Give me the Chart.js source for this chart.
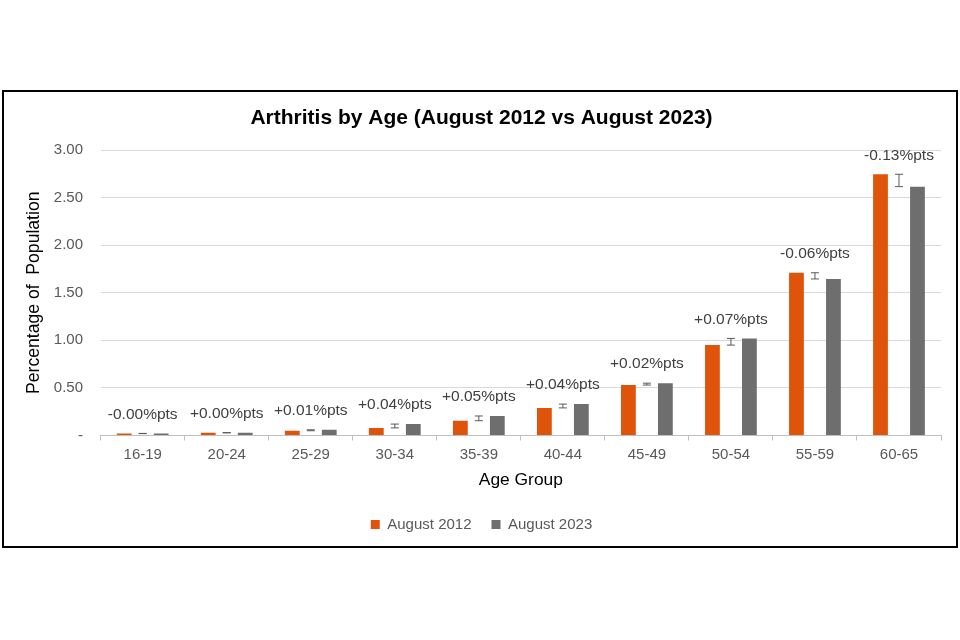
<!DOCTYPE html>
<html>
<head>
<meta charset="utf-8">
<script src="https://cdn.jsdelivr.net/npm/chart.js@4"></script>
<style>
  body { margin: 0; background: #fff; }
  #box { position: absolute; left: 2px; top: 90px; width: 956px; height: 458px;
         border: 2px solid #000; box-sizing: border-box; }
</style>
</head>
<body>
<div id="box"><canvas id="myChart" width="952" height="454"></canvas></div>
<script>
// values (% of population)
const ageGroups = ["16-19", "20-24", "25-29", "30-34", "35-39", "40-44", "45-49", "50-54", "55-59", "60-65"];
const aug2012 = [0.022, 0.028, 0.05, 0.08, 0.155, 0.29, 0.53, 0.95, 1.71, 2.745];
const aug2023 = [0.020, 0.030, 0.06, 0.12, 0.205, 0.33, 0.55, 1.02, 1.645, 2.615];
const changeLabels = ["-0.00%pts", "+0.00%pts", "+0.01%pts", "+0.04%pts", "+0.05%pts", "+0.04%pts", "+0.02%pts", "+0.07%pts", "-0.06%pts", "-0.13%pts"];

const FONT = "'Liberation Sans', Arial, sans-serif";
Chart.defaults.font.family = FONT;

// error bar between the two bars + change label above each group
const changePlugin = {
  id: "changeMarks",
  afterDatasetsDraw(chart) {
    const c = chart.ctx;
    const x = chart.scales.x, y = chart.scales.y;
    c.save();
    for (let i = 0; i < ageGroups.length; i++) {
      const cx = x.getPixelForValue(i);
      const hi = y.getPixelForValue(Math.max(aug2012[i], aug2023[i]));
      const lo = y.getPixelForValue(Math.min(aug2012[i], aug2023[i]));
      c.strokeStyle = "#595959";
      c.lineWidth = 1;
      c.beginPath();
      c.moveTo(cx, hi); c.lineTo(cx, lo);
      c.moveTo(cx - 4, hi); c.lineTo(cx + 4, hi);
      c.moveTo(cx - 4, lo); c.lineTo(cx + 4, lo);
      c.stroke();
      c.fillStyle = "#404040";
      c.font = "15.5px " + FONT;
      c.textAlign = "center";
      c.textBaseline = "middle";
      c.fillText(changeLabels[i], cx, hi - 19);
    }
    c.restore();
  }
};

const ctx = document.getElementById("myChart");
new Chart(ctx, {
  type: "bar",
  data: {
    labels: ageGroups,
    datasets: [
      { label: "August 2012", data: aug2012, backgroundColor: "#E0530A",
        categoryPercentage: 0.66, barPercentage: 0.8 },
      { label: "Change", data: ageGroups.map(() => null), backgroundColor: "rgba(0,0,0,0)",
        categoryPercentage: 0.66, barPercentage: 0.8 },
      { label: "August 2023", data: aug2023, backgroundColor: "#6E6E6E",
        categoryPercentage: 0.66, barPercentage: 0.8 }
    ]
  },
  options: {
    responsive: false,
    animation: false,
    layout: { padding: { left: 18, right: 15, top: 0, bottom: 4 } },
    plugins: {
      title: {
        display: true,
        text: "Arthritis by Age (August 2012 vs August 2023)",
        color: "#000",
        font: { size: 21, weight: "bold" },
        padding: { top: 13.4, bottom: 19.4 }
      },
      legend: {
        position: "bottom",
        labels: {
          filter: (item) => item.text !== "Change",
          boxWidth: 9, boxHeight: 9,
          color: "#595959",
          font: { size: 15 },
          padding: 20
        }
      },
      tooltip: { enabled: false }
    },
    scales: {
      x: {
        grid: { display: true, drawOnChartArea: false, tickLength: 5, color: "#BFBFBF" },
        border: { color: "#BFBFBF" },
        ticks: { color: "#595959", font: { size: 15 }, padding: 5.5 },
        title: { display: true, text: "Age Group", color: "#000", font: { size: 17.4 },
                 padding: { top: 0, bottom: 6.3 } },
        afterFit: (s) => { s.height = 61.5; }
      },
      y: {
        min: 0, max: 3,
        ticks: { stepSize: 0.5, color: "#595959", font: { size: 15 }, padding: 17.7,
                 callback: (v) => v === 0 ? "-" : v.toFixed(2) },
        grid: { color: "#D9D9D9", drawTicks: false },
        border: { display: false },
        title: { display: true, text: "Percentage of  Population", color: "#000", font: { size: 17.6 },
                 padding: { top: 1.5, bottom: 0 } },
        afterFit: (s) => { s.width = 78.7; }
      }
    }
  },
  plugins: [changePlugin]
});
</script>
</body>
</html>
